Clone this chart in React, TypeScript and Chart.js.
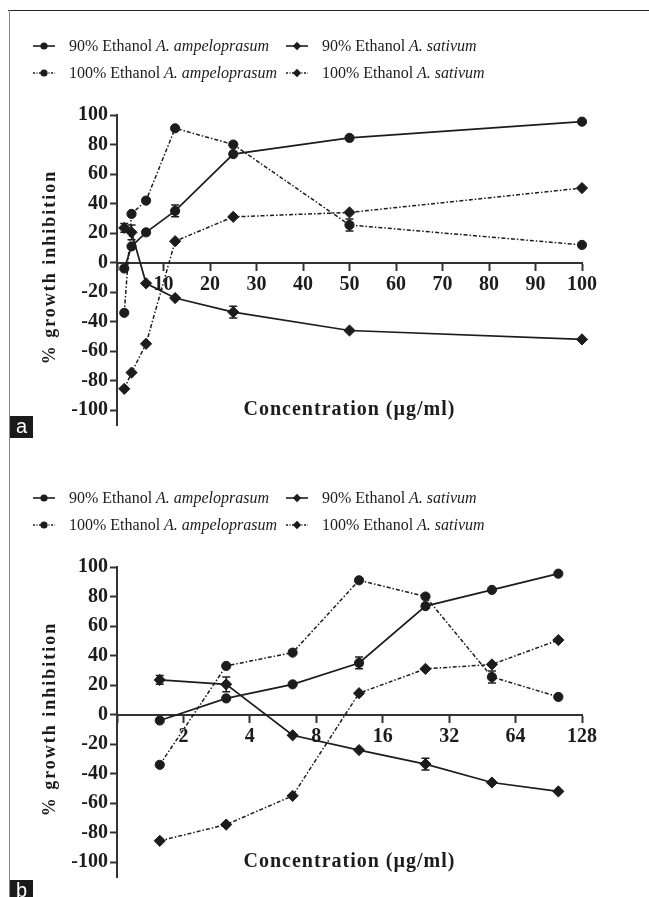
import React, { useEffect, useRef } from 'react';
import { Chart, registerables } from 'chart.js';

Chart.register(...registerables);

// ---------------- data ----------------
const concentrations = [1.5625, 3.125, 6.25, 12.5, 25, 50, 100];

const ampeloprasum90 = [-4, 11, 20.5, 35, 73.5, 84.5, 95.5];
const ampeloprasum90Err = [0, 0, 0, 4, 0, 0, 0];

const ampeloprasum100 = [-34, 33, 42, 91, 80, 25.5, 12];
const ampeloprasum100Err = [0, 0, 0, 0, 0, 4, 0];

const sativum90 = [23.5, 20.5, -14, -24, -33.5, -46, -52];
const sativum90Err = [3, 5, 0, 0, 4, 0, 0];

const sativum100 = [-85.5, -74.5, -55, 14.5, 31, 34, 50.5];
const sativum100Err = [0, 0, 0, 0, 0, 0, 0];

const linearXTicks = [0, 10, 20, 30, 40, 50, 60, 70, 80, 90, 100];
const log2XTicks = [1, 2, 4, 8, 16, 32, 64, 128];
const yTicks = [-100, -80, -60, -40, -20, 0, 20, 40, 60, 80, 100];

const legendPrefixes = ['90% Ethanol', '100% Ethanol', '90% Ethanol', '100% Ethanol'];
const legendSpecies = ['A. ampeloprasum', 'A. ampeloprasum', 'A. sativum', 'A. sativum'];

const xTitle = 'Concentration (\u00b5g/ml)';
const yTitle = '% growth inhibition';

// ---------------- style ----------------
const INK = '#1c1c1c';
const SERIF = '"Liberation Serif", "Times New Roman", serif';

function makeDatasets() {
  const mk = (label: string, values: number[], errors: number[], pointStyle: string, dashed: boolean) => ({
    label,
    data: concentrations.map((x, i) => ({ x, y: values[i] })),
    errors,
    borderColor: INK,
    backgroundColor: INK,
    pointBackgroundColor: INK,
    pointBorderColor: INK,
    borderWidth: dashed ? 1.5 : 1.7,
    borderDash: dashed ? [4, 2, 1.5, 2] : [],
    pointStyle,
    pointRadius: pointStyle === 'circle' ? 4.6 : 5.6,
    pointBorderWidth: 1,
    tension: 0,
    clip: false,
    dashed,
  });
  return [
    mk(legendPrefixes[0] + ' ' + legendSpecies[0], ampeloprasum90, ampeloprasum90Err, 'circle', false),
    mk(legendPrefixes[1] + ' ' + legendSpecies[1], ampeloprasum100, ampeloprasum100Err, 'circle', true),
    mk(legendPrefixes[2] + ' ' + legendSpecies[2], sativum90, sativum90Err, 'rectRot', false),
    mk(legendPrefixes[3] + ' ' + legendSpecies[3], sativum100, sativum100Err, 'rectRot', true),
  ];
}

function drawMarker(ctx: CanvasRenderingContext2D, style: string, x: number, y: number, r: number) {
  ctx.beginPath();
  if (style === 'circle') {
    ctx.arc(x, y, r, 0, Math.PI * 2);
  } else {
    ctx.moveTo(x, y - r);
    ctx.lineTo(x + r, y);
    ctx.lineTo(x, y + r);
    ctx.lineTo(x - r, y);
    ctx.closePath();
  }
  ctx.fill();
}

const overlayPlugin = {
  id: 'overlay',
  afterDatasetsDraw(chart: any) {
    const { ctx } = chart;
    const xs = chart.scales.x;
    const ys = chart.scales.y;
    ctx.save();
    ctx.strokeStyle = INK;
    ctx.lineWidth = 1.5;
    ctx.setLineDash([]);
    chart.data.datasets.forEach((ds: any) => {
      ds.data.forEach((p: any, i: number) => {
        const e = ds.errors[i];
        if (!e) return;
        const px = xs.getPixelForValue(p.x);
        const yt = ys.getPixelForValue(p.y + e);
        const yb = ys.getPixelForValue(p.y - e);
        ctx.beginPath();
        ctx.moveTo(px, yt);
        ctx.lineTo(px, yb);
        ctx.moveTo(px - 4, yt);
        ctx.lineTo(px + 4, yt);
        ctx.moveTo(px - 4, yb);
        ctx.lineTo(px + 4, yb);
        ctx.stroke();
      });
    });
    ctx.restore();
  },
  afterDraw(chart: any) {
    const { ctx, chartArea } = chart;
    ctx.save();
    // legend
    const colX = [33, 286];
    const rowY = [46, 73];
    chart.data.datasets.forEach((ds: any, i: number) => {
      const col = i < 2 ? 0 : 1;
      const row = i % 2;
      const x0 = colX[col];
      const y = rowY[row];
      ctx.strokeStyle = INK;
      ctx.fillStyle = INK;
      ctx.lineWidth = 1.6;
      ctx.setLineDash(ds.dashed ? [2, 1.5, 1, 1.5] : []);
      ctx.beginPath();
      ctx.moveTo(x0, y);
      ctx.lineTo(x0 + 22, y);
      ctx.stroke();
      ctx.setLineDash([]);
      drawMarker(ctx, ds.pointStyle, x0 + 11, y, ds.pointStyle === 'circle' ? 3.6 : 4.2);
      ctx.textBaseline = 'middle';
      ctx.textAlign = 'left';
      ctx.font = '16px ' + SERIF;
      const pre = legendPrefixes[i] + ' ';
      ctx.fillText(pre, x0 + 36, y + 1);
      const w = ctx.measureText(pre).width;
      ctx.font = 'italic 16px ' + SERIF;
      ctx.fillText(legendSpecies[i], x0 + 36 + w, y + 1);
    });
    // axis titles
    ctx.fillStyle = INK;
    (ctx as any).letterSpacing = '1px';
    ctx.font = 'bold 20px ' + SERIF;
    ctx.textAlign = 'center';
    ctx.textBaseline = 'middle';
    ctx.fillText(xTitle, (chartArea.left + chartArea.right) / 2, chartArea.bottom - 15);
    (ctx as any).letterSpacing = '2px';
    ctx.font = 'bold 18px ' + SERIF;
    ctx.translate(50, 267);
    ctx.rotate(-Math.PI / 2);
    ctx.fillText(yTitle, 0, 0);
    ctx.restore();
  },
};

type PanelProps = { logX: boolean; top: number };

function Panel({ logX, top }: PanelProps) {
  const ref = useRef<HTMLCanvasElement | null>(null);
  useEffect(() => {
    if (!ref.current) return;
    const xTickValues = logX ? log2XTicks : linearXTicks;
    const tickFont = { family: SERIF, size: 20, weight: 'bold' as const };
    const chart = new Chart(ref.current, {
      type: 'line',
      data: { datasets: makeDatasets() as any },
      plugins: [overlayPlugin as any],
      options: {
        responsive: false,
        animation: false,
        events: [],
        layout: { padding: { left: 0, top: 115, right: 67, bottom: 20 } },
        plugins: { legend: { display: false }, tooltip: { enabled: false } },
        scales: {
          x: {
            type: logX ? 'logarithmic' : 'linear',
            min: xTickValues[0],
            max: xTickValues[xTickValues.length - 1],
            position: { y: 0 } as any,
            afterFit: (s: any) => {
              s.height = 0;
            },
            afterBuildTicks: (s: any) => {
              s.ticks = xTickValues.map((v) => ({ value: v }));
            },
            ticks: {
              autoSkip: false,
              maxRotation: 0,
              padding: 3,
              color: INK,
              font: tickFont,
              callback: (v: any) => (Number(v) === xTickValues[0] ? '' : String(v)),
            },
            grid: { drawOnChartArea: false, drawTicks: true, tickLength: 7, tickWidth: 2, tickColor: '#333' },
            border: { display: true, color: '#333', width: 2 },
          },
          y: {
            type: 'linear',
            min: -110,
            max: 100,
            afterFit: (s: any) => {
              s.width = 117;
            },
            afterBuildTicks: (s: any) => {
              s.ticks = yTicks.map((v) => ({ value: v }));
            },
            ticks: { autoSkip: false, padding: 2, color: INK, font: tickFont },
            grid: { drawOnChartArea: false, drawTicks: true, tickLength: 7, tickWidth: 2, tickColor: '#333' },
            border: { display: true, color: '#333', width: 2 },
          },
        },
      },
    });
    return () => chart.destroy();
  }, [logX]);
  return (
    <canvas
      ref={ref}
      width={649}
      height={445}
      style={{ position: 'absolute', left: 0, top, width: 649, height: 445 }}
    />
  );
}

const labelBox: React.CSSProperties = {
  position: 'absolute',
  left: 10,
  width: 23,
  height: 22,
  background: '#1a1a1a',
  color: '#fff',
  fontFamily: '"Liberation Sans", Arial, sans-serif',
  fontSize: 20,
  lineHeight: '20px',
  textAlign: 'center',
};

export default function App() {
  return (
    <div
      style={{
        position: 'absolute',
        left: 0,
        top: 0,
        width: 649,
        height: 897,
        background: '#fff',
        overflow: 'hidden',
      }}
    >
      <div style={{ position: 'absolute', left: 8, top: 10, width: 641, height: 0, borderTop: '1.5px solid #222' }} />
      <div style={{ position: 'absolute', left: 9, top: 10, width: 0, height: 887, borderLeft: '1.5px solid #8a8a8a' }} />
      <Panel logX={false} top={0} />
      <Panel logX={true} top={452} />
      <div style={{ ...labelBox, top: 416 }}>a</div>
      <div style={{ ...labelBox, top: 880 }}>b</div>
    </div>
  );
}
